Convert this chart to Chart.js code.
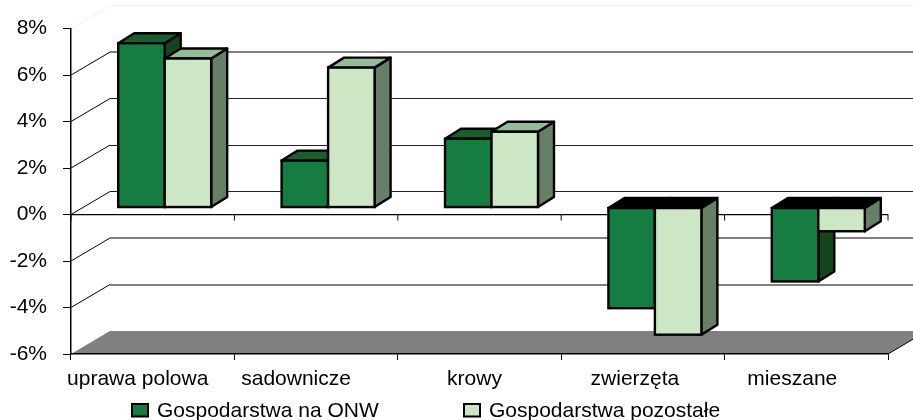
<!DOCTYPE html>
<html>
<head>
<meta charset="utf-8">
<style>
  html, body { margin: 0; padding: 0; background: #fff; }
  canvas { display: block; }
</style>
<script src="https://cdn.jsdelivr.net/npm/chart.js@4/dist/chart.umd.min.js"></script>
</head>
<body>
<canvas id="wykres" width="913" height="420"></canvas>
<script>
const kategorie = ['uprawa polowa', 'sadownicze', 'krowy', 'zwierzęta', 'mieszane'];
const naONW = [7.07, 2.02, 2.96, -4.33, -3.18];
const pozostale = [6.41, 6.02, 3.26, -5.47, -1.02];
const etykietyY = [-6, -4, -2, 0, 2, 4, 6, 8];
const szareLinie = [-4, -2, 6];

const czcionka = 'Liberation Sans';

// kolory scian slupkow: przod, gora, bok
const zielony = { front: '#147d3f', top: '#1a5e2f', side: '#14451f' };
const jasny = { front: '#cde6c4', top: '#96bb98', side: '#668068' };

// glebia wykresu 3D
const sciana = { dx: 39, dy: -23 };
const slupekPrzesun = { dx: 12, dy: -7 };
const slupekGlebia = { dx: 16, dy: -10 };
const przesunEtykiety = [-15, -20, -5, -8, -14];

function wielokat(ctx, pts, fill, stroke, lw) {
    ctx.beginPath();
    pts.forEach((p, i) => i ? ctx.lineTo(p[0], p[1]) : ctx.moveTo(p[0], p[1]));
    ctx.closePath();
    if (fill) {
        ctx.fillStyle = fill;
        ctx.fill();
    }
    if (stroke) {
        ctx.strokeStyle = stroke;
        ctx.lineWidth = lw;
        ctx.stroke();
    }
}

function linia(ctx, x1, y1, x2, y2, kolor, lw) {
    ctx.beginPath();
    ctx.moveTo(x1, y1);
    ctx.lineTo(x2, y2);
    ctx.strokeStyle = kolor;
    ctx.lineWidth = lw;
    ctx.stroke();
}

const tlo3d = {
    id: 'tlo3d',
    beforeDraw(chart) {
        const { ctx, chartArea: a, scales: { x, y } } = chart;
        const dol = y.getPixelForValue(-6);
        const zero = y.getPixelForValue(0);
        ctx.save();
        // podloga
        wielokat(ctx, [[a.left, dol], [a.left + sciana.dx, dol + sciana.dy],
            [a.right + sciana.dx, dol + sciana.dy], [a.right, dol]], '#808080');
        linia(ctx, a.right, dol, a.right + sciana.dx, dol + sciana.dy, '#000', 1);
        // linie siatki na scianach
        etykietyY.forEach(v => {
            if (v === -6) return;
            const py = y.getPixelForValue(v);
            linia(ctx, a.left, py, a.left + sciana.dx, py + sciana.dy, v === 8 ? '#f0f0f0' : '#000', 1);
            const ty = py + sciana.dy;
            if (v === 8) {
                linia(ctx, a.left + sciana.dx, ty, a.right + sciana.dx, ty, '#f0f0f0', 1);
            } else if (szareLinie.includes(v)) {
                linia(ctx, a.left + sciana.dx, Math.round(ty), a.right + sciana.dx, Math.round(ty), '#808080', 2);
            } else {
                linia(ctx, a.left + sciana.dx, Math.floor(ty) + 0.5, a.right + sciana.dx, Math.floor(ty) + 0.5, '#222', 1);
            }
        });
        // os zero ze znacznikami
        linia(ctx, a.left, zero, a.right, zero, '#000', 1.3);
        const pas = (a.right - a.left) / kategorie.length;
        for (let i = 0; i <= kategorie.length; i++) {
            const px = x.getPixelForValue(0) - pas / 2 + i * pas;
            linia(ctx, px, zero, px, zero + 6, '#000', 1);
        }
        ctx.restore();

        // etykiety kategorii nie sa na srodku pasa
        x.getLabelItems(a).forEach((item, i) => {
            if (!item.przesuniety) {
                item.options.translation[0] += przesunEtykiety[i];
                item.przesuniety = true;
            }
        });
    },
    beforeDatasetDraw() {
        return false;
    },
    afterDatasetsDraw(chart) {
        const ctx = chart.ctx;
        const zestawy = [zielony, jasny];
        zestawy.forEach((kolory, d) => {
            const meta = chart.getDatasetMeta(d);
            meta.data.forEach((el, i) => {
                const w = el.getProps(['x', 'y', 'base', 'width'], true);
                const L = w.x - w.width / 2 + slupekPrzesun.dx;
                const R = L + w.width;
                const T = Math.min(w.y, w.base) + slupekPrzesun.dy;
                const B = Math.max(w.y, w.base) + slupekPrzesun.dy;
                const g = slupekGlebia;
                const ujemny = chart.data.datasets[d].data[i] < 0;
                ctx.save();
                ctx.lineJoin = 'round';
                wielokat(ctx, [[R, T], [R + g.dx, T + g.dy], [R + g.dx, B + g.dy], [R, B]], kolory.side, '#000', 2.4);
                wielokat(ctx, [[L, T], [L + g.dx, T + g.dy], [R + g.dx, T + g.dy], [R, T]],
                    ujemny ? '#000' : kolory.top, '#000', 2.4);
                ctx.translate(slupekPrzesun.dx, slupekPrzesun.dy);
                el.draw(ctx);
                ctx.restore();
                ctx.save();
                ctx.strokeStyle = '#000';
                ctx.lineWidth = 2.4;
                ctx.strokeRect(L, T, R - L, B - T);
                ctx.restore();
            });
        });
        // legenda
        ctx.save();
        ctx.font = '21px "' + czcionka + '"';
        ctx.textBaseline = 'middle';
        const pozycje = [{ box: 132, txt: 157 }, { box: 464, txt: 489 }];
        chart.data.datasets.forEach((ds, i) => {
            ctx.fillStyle = ds.backgroundColor;
            ctx.strokeStyle = '#000';
            ctx.lineWidth = 2;
            ctx.fillRect(pozycje[i].box, 404, 16, 12.5);
            ctx.strokeRect(pozycje[i].box, 404, 16, 12.5);
            ctx.fillStyle = '#000';
            ctx.fillText(ds.label, pozycje[i].txt, 411);
        });
        ctx.restore();
    }
};

new Chart(document.getElementById('wykres').getContext('2d'), {
    type: 'bar',
    data: {
        labels: kategorie,
        datasets: [
            { label: 'Gospodarstwa na ONW', data: naONW, backgroundColor: zielony.front, borderWidth: 0 },
            { label: 'Gospodarstwa pozostałe', data: pozostale, backgroundColor: jasny.front, borderWidth: 0 }
        ]
    },
    options: {
        responsive: false,
        animation: false,
        categoryPercentage: 0.569,
        barPercentage: 1,
        layout: {
            autoPadding: false,
            padding: { top: 28, right: 25, left: 0, bottom: 0 }
        },
        plugins: {
            legend: { display: false },
            title: { display: false },
            tooltip: { enabled: false }
        },
        scales: {
            x: {
                afterFit: s => { s.height = 66; },
                grid: { drawOnChartArea: false, tickLength: 6, tickColor: '#000', offset: true },
                border: { color: '#000', width: 1.5 },
                ticks: {
                    color: '#000',
                    padding: 7,
                    maxRotation: 0,
                    autoSkip: false,
                    font: { family: czcionka, size: 21 }
                }
            },
            y: {
                min: -6,
                max: 8,
                afterFit: s => { s.width = 71; },
                afterBuildTicks: s => { s.ticks = etykietyY.map(v => ({ value: v })); },
                grid: { drawOnChartArea: false, tickLength: 8, tickColor: '#000' },
                border: { color: '#000', width: 1.5 },
                ticks: {
                    color: '#000',
                    padding: 16,
                    font: { family: czcionka, size: 21 },
                    callback: v => v + '%'
                }
            }
        }
    },
    plugins: [tlo3d]
});
</script>
</body>
</html>
